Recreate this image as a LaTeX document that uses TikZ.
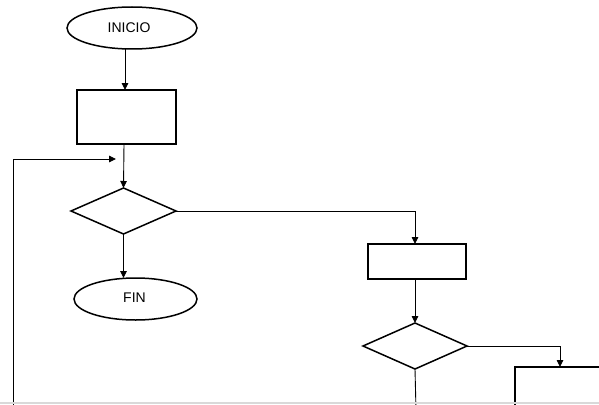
\documentclass[tikz,border=0pt]{standalone}
\usepackage{fontspec}
\setmainfont{Liberation Sans}
\usetikzlibrary{arrows.meta,shapes.geometric}
\begin{document}
\begin{tikzpicture}[x=1pt,y=-1pt,
  boxbase/.style={draw=black,line width=1.5pt,inner sep=0pt,outer sep=0pt},
  term/.style={boxbase,ellipse,font=\fontsize{14}{16}\selectfont},
  proc/.style={boxbase,rectangle},
  dec/.style={boxbase,diamond},
  conn/.style={draw=black,line width=0.9pt},
  arr/.style={conn,-{Triangle[length=7pt,width=6.5pt]}}]
\useasboundingbox (0,0) rectangle (599,404);
\clip (0,0) rectangle (599,404);
\fill[white] (0,0) rectangle (599,404);
% nodes
\node[term,minimum width=130pt,minimum height=42pt] (inicio) at (132,28) {};
\node[font=\fontsize{14}{16}\selectfont] (initxt) at (129,28) {INICIO};
\node[proc,minimum width=99pt,minimum height=54pt] (p1) at (126.5,117) {};
\node[dec,minimum width=105pt,minimum height=46pt] (d1) at (123.5,211) {};
\node[term,minimum width=123pt,minimum height=42pt] (fin) at (135.5,299) {};
\node[font=\fontsize{14}{16}\selectfont] (fintxt) at (134.5,298) {FIN};
\node[proc,minimum width=98pt,minimum height=35pt] (p2) at (417,261.5) {};
\node[dec,minimum width=104pt,minimum height=46pt] (d2) at (415,346) {};
\node[proc,minimum width=160pt,minimum height=60pt] (p3) at (595,397) {};
% coordinates
\coordinate (loopbot) at (13,410);
\coordinate (looptop) at (13,159);
\coordinate (loopend) at (116,159);
\coordinate (c1) at (415,211);
\coordinate (c2) at (560,346);
\coordinate (d2bot) at (416,410);
% connectors
\draw[arr] (inicio.south -| 125,0) -- (125,90);
\draw[arr] (124,144) -- (d1.north);
\draw[arr] (loopbot) -- (looptop) -- (loopend);
\draw[arr] (d1.east) -- (c1) -- (p2.north -| c1);
\draw[arr] (d1.south) -- (fin.north -| d1.south);
\draw[arr] (p2.south -| d2.north) -- (d2.north);
\draw[arr] (d2.east) -- (c2) -- (p3.north -| c2);
\draw[conn] (d2.south) -- (d2bot);
\draw[gray!30,line width=1.5pt] (0,403) -- (599,403);
\end{tikzpicture}
\end{document}
